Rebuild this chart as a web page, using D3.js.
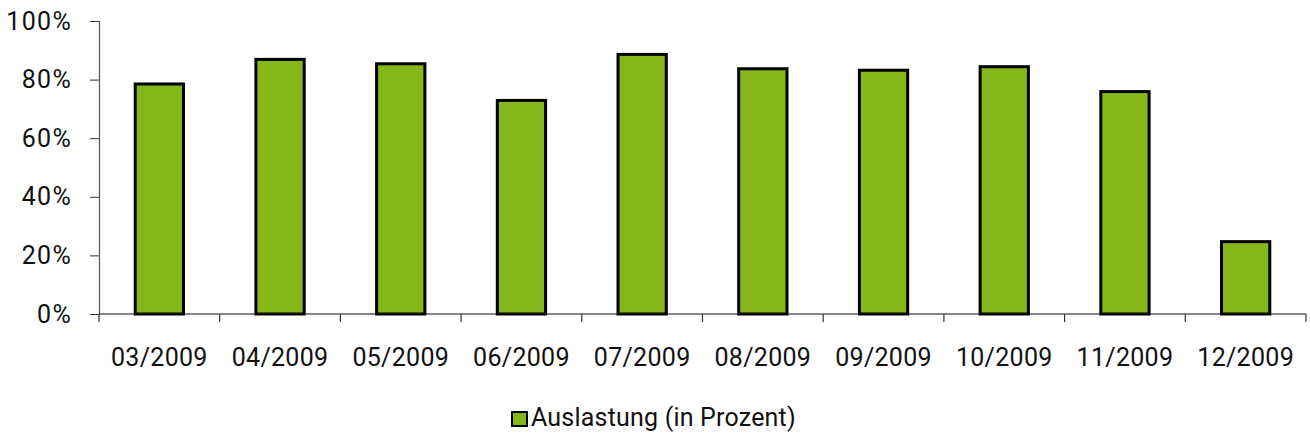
<!DOCTYPE html>
<html>
<head>
<meta charset="utf-8">
<script src="https://cdn.jsdelivr.net/npm/d3@7"></script>
<style>
  html, body { margin: 0; padding: 0; background: #fff; }
  svg text { font-family: "Roboto", "Liberation Sans", sans-serif; fill: #111; }
</style>
</head>
<body>
<svg id="chart" width="1310" height="437"></svg>
<script>
// Monthly utilisation, March to December 2009
const months = ["03/2009", "04/2009", "05/2009", "06/2009", "07/2009",
                "08/2009", "09/2009", "10/2009", "11/2009", "12/2009"];
const auslastung = [78.5, 86.9, 85.4, 72.9, 88.6, 83.7, 83.2, 84.4, 75.9, 24.7];
const yTicks = [0, 20, 40, 60, 80, 100];
const seriesName = "Auslastung (in Prozent)";

const svg = d3.select("#chart");
const plot = { left: 99, right: 1306, top: 21, bottom: 314 };

const x = d3.scaleBand().domain(months).range([plot.left, plot.right]).paddingInner(0.6).paddingOuter(0.3);
const xBand = d3.scaleBand().domain(months).range([plot.left, plot.right]);
const y = d3.scaleLinear().domain([0, 100]).range([plot.bottom, plot.top]);

// bars
svg.append("g").selectAll("rect")
  .data(months.map((m, i) => ({ m, v: auslastung[i] })))
  .join("rect")
  .attr("x", d => x(d.m))
  .attr("width", x.bandwidth())
  .attr("y", d => y(d.v))
  .attr("height", d => y(0) - y(d.v))
  .attr("fill", "#85b71a")
  .attr("stroke", "#000")
  .attr("stroke-width", 3);

// y axis
const yAxis = svg.append("g").attr("transform", `translate(${plot.left},0)`)
  .call(d3.axisLeft(y).tickValues(yTicks).tickFormat(d => d + "%").tickSize(9).tickPadding(18));
yAxis.select(".domain").attr("stroke", "#555").attr("stroke-width", 1.2);
yAxis.selectAll(".tick line").attr("stroke", "#333");
yAxis.selectAll("text").attr("font-size", 25).attr("letter-spacing", 1.3)
  .attr("font-family", "Roboto").attr("fill", "#111");

// x axis: ticks at category boundaries
const xAxisG = svg.append("g").attr("transform", `translate(0,${plot.bottom})`);
xAxisG.append("line").attr("x1", plot.left).attr("x2", plot.right).attr("stroke", "#111").attr("stroke-width", 1.2);
const bounds = months.map(m => xBand(m)).concat([plot.right]);
xAxisG.selectAll("line.tk").data(bounds).join("line").attr("class", "tk")
  .attr("x1", d => d).attr("x2", d => d).attr("y1", 0).attr("y2", 8)
  .attr("stroke", "#333").attr("stroke-width", 1.2);
xAxisG.selectAll("text").data(months).join("text")
  .attr("x", d => xBand(d) + xBand.bandwidth() / 2)
  .attr("y", 52)
  .attr("text-anchor", "middle")
  .attr("font-size", 25)
  .attr("letter-spacing", 0.3)
  .text(d => d);

// legend
const lg = svg.append("g").attr("transform", "translate(512,412)");
lg.append("rect").attr("width", 15).attr("height", 14)
  .attr("fill", "#85b71a").attr("stroke", "#000").attr("stroke-width", 2);
lg.append("text").attr("x", 19).attr("y", 14).attr("font-size", 25).attr("letter-spacing", 0.2).text(seriesName);
</script>
</body>
</html>
